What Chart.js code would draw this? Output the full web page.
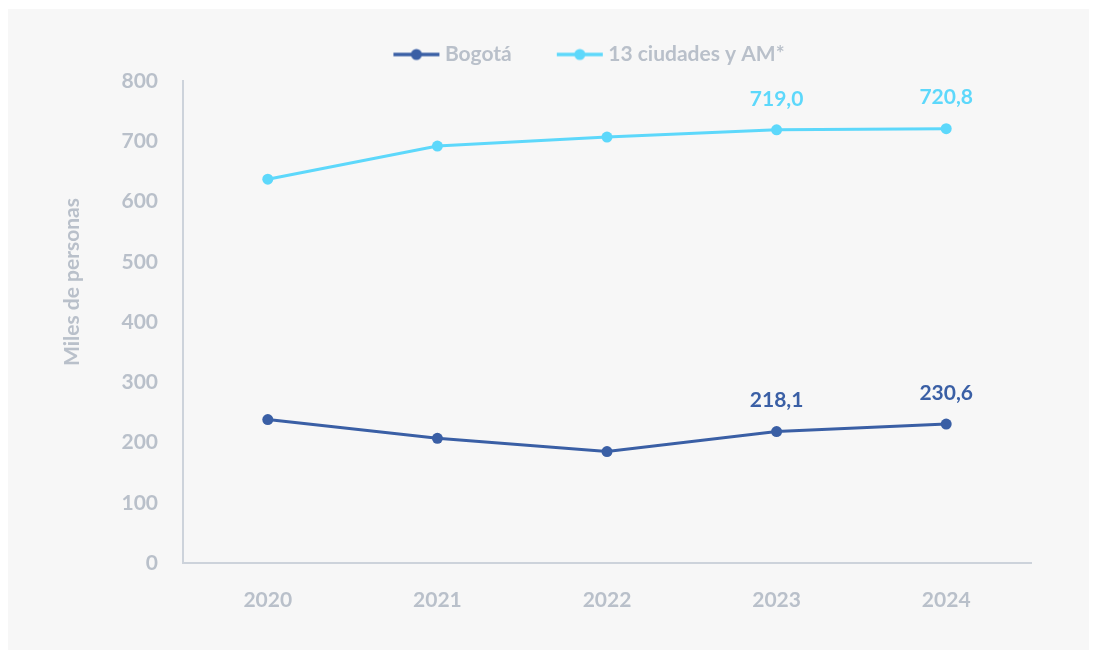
<!DOCTYPE html>
<html>
<head>
<meta charset="utf-8">
<script src="https://cdn.jsdelivr.net/npm/chart.js@4/dist/chart.umd.min.js"></script>
<style>
    html, body { margin: 0; padding: 0; background: #ffffff; }
    #wrap { position: relative; width: 1094px; height: 653px; }
</style>
</head>
<body>
<div id="wrap"><canvas id="chart" width="1094" height="653"></canvas></div>
<script>
const years = ['2020', '2021', '2022', '2023', '2024'];
const bogota = [238, 207, 185, 218.1, 230.6];
const ciudades = [637, 692, 707, 719.0, 720.8];
const yTicks = [0, 100, 200, 300, 400, 500, 600, 700, 800];
const labelledYears = ['2023', '2024'];

const gray = '#b9c0ca';
const darkBlue = '#3a5fa5';
const lightBlue = '#5dd8fb';
const fontFamily = 'Lato, "Open Sans", sans-serif';

Chart.defaults.font.family = fontFamily;
Chart.defaults.font.weight = 'bold';
Chart.defaults.color = gray;

/**
 * small line with a dot, used as legend marker
 */
function legendMarker(color) {
    const c = document.createElement('canvas');
    c.width = 48;
    c.height = 14;
    const g = c.getContext('2d');
    g.strokeStyle = color;
    g.lineWidth = 3.5;
    g.beginPath();
    g.moveTo(1, 7);
    g.lineTo(47, 7);
    g.stroke();
    g.fillStyle = color;
    g.beginPath();
    g.arc(24, 7, 5.5, 0, Math.PI * 2);
    g.fill();
    return c;
}

// grey panel behind the chart, legend moved over the plot area
const panelPlugin = {
    id: 'panel',
    afterLayout(chart) {
        const lg = chart.legend;
        lg.left = 152;
        lg.top -= 6;
        lg.bottom -= 6;
    },
    beforeDraw(chart) {
        const ctx = chart.ctx;
        ctx.save();
        ctx.fillStyle = '#f7f7f7';
        ctx.fillRect(8, 9, 1081, 641);
        ctx.restore();
    }
};

// rotated y title and value labels on the last points
const textPlugin = {
    id: 'texts',
    afterDatasetsDraw(chart) {
        const ctx = chart.ctx;
        ctx.save();
        ctx.font = 'bold 21px ' + fontFamily;
        ctx.fillStyle = gray;
        ctx.textAlign = 'center';
        ctx.textBaseline = 'middle';
        ctx.translate(72, 282);
        ctx.rotate(-Math.PI / 2);
        ctx.fillText('Miles de personas', 0, 0);
        ctx.restore();

        chart.data.datasets.forEach((ds, i) => {
            const meta = chart.getDatasetMeta(i);
            meta.data.forEach((pt, j) => {
                if (!labelledYears.includes(chart.data.labels[j])) return;
                ctx.save();
                ctx.font = 'bold 21px ' + fontFamily;
                ctx.fillStyle = ds.borderColor;
                ctx.textAlign = 'center';
                ctx.textBaseline = 'middle';
                ctx.fillText(ds.data[j].toFixed(1).replace('.', ','), pt.x, pt.y - 31);
                ctx.restore();
            });
        });
    }
};

new Chart(document.getElementById('chart'), {
    type: 'line',
    data: {
        labels: years,
        datasets: [
            {
                label: 'Bogotá',
                data: bogota,
                borderColor: darkBlue,
                backgroundColor: darkBlue,
                borderWidth: 3,
                pointRadius: 5.5,
                pointBorderWidth: 0,
                pointHoverRadius: 5.5,
                pointStyle: 'circle',
                legendImage: legendMarker(darkBlue)
            },
            {
                label: '13 ciudades y AM*',
                data: ciudades,
                borderColor: lightBlue,
                backgroundColor: lightBlue,
                borderWidth: 3,
                pointRadius: 5.5,
                pointBorderWidth: 0,
                pointHoverRadius: 5.5,
                pointStyle: 'circle',
                legendImage: legendMarker(lightBlue)
            }
        ]
    },
    options: {
        responsive: false,
        animation: false,
        layout: { padding: { top: 0, right: 63, bottom: 0, left: 0 } },
        plugins: {
            tooltip: { enabled: false },
            legend: {
                display: true,
                position: 'top',
                labels: {
                    usePointStyle: true,
                    pointStyleWidth: 36,
                    padding: 50,
                    color: gray,
                    font: { size: 21, weight: 'bold' },
                    generateLabels(chart) {
                        return chart.data.datasets.map((ds, i) => ({
                            text: ds.label,
                            fillStyle: ds.borderColor,
                            strokeStyle: ds.borderColor,
                            fontColor: gray,
                            pointStyle: ds.legendImage,
                            lineWidth: 0,
                            hidden: false,
                            datasetIndex: i
                        }));
                    }
                }
            }
        },
        scales: {
            x: {
                offset: true,
                grid: { display: false, drawTicks: false },
                border: { display: true, color: '#cdd3db', width: 2 },
                ticks: { padding: 25, font: { size: 21, weight: 'bold' }, color: gray },
                afterFit(scale) { scale.height = 90; }
            },
            y: {
                min: 0,
                max: 800,
                afterBuildTicks(scale) { scale.ticks = yTicks.map(v => ({ value: v })); },
                grid: { display: false, drawTicks: false },
                border: { display: true, color: '#cdd3db', width: 2 },
                ticks: { padding: 25, font: { size: 21, weight: 'bold' }, color: gray },
                afterFit(scale) { scale.width = 183; }
            }
        }
    },
    plugins: [panelPlugin, textPlugin]
});
</script>
</body>
</html>
